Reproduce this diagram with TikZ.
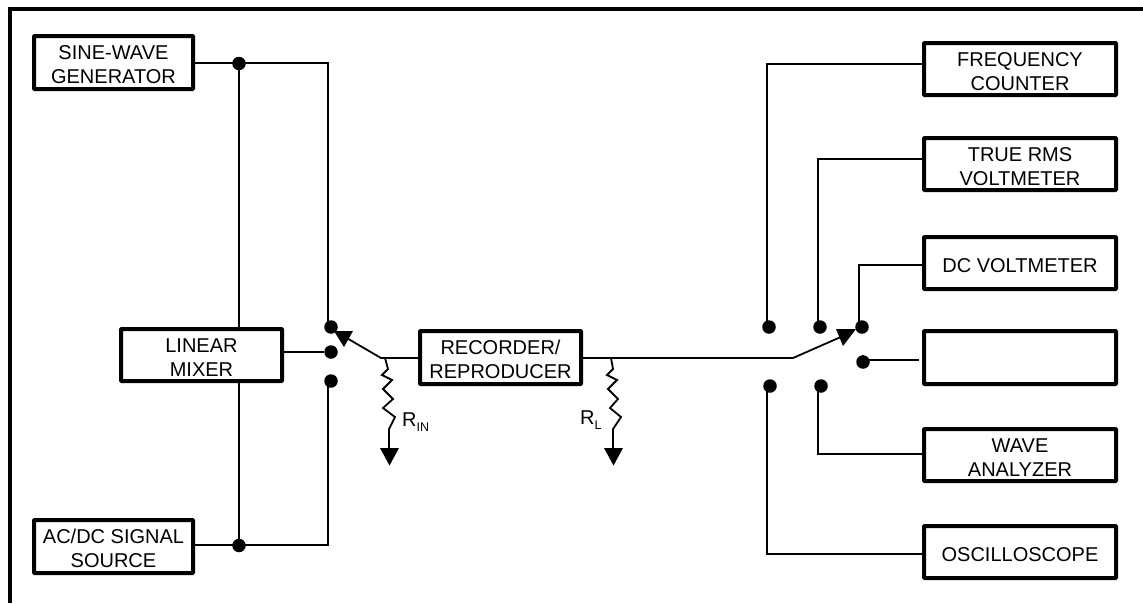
\documentclass[tikz,border=0pt]{standalone}
\usepackage{fontspec}
\setmainfont{Liberation Sans}
\tikzset{
 x=1pt,y=-1pt,
 box/.style={draw,line width=4pt,rounded corners=0.8pt,inner sep=0pt,align=center,font=\fontsize{20}{24}\selectfont,anchor=north west},
 wire/.style={line width=1.8pt},
 dot/.style={circle,fill=black,inner sep=0pt,minimum size=13.5pt},
 tip/.style={fill=black,draw=none},
 lab/.style={inner sep=0pt,font=\fontsize{20}{24}\selectfont}
}
\newcommand{\bx}[6]{\node[box,minimum width=#4 pt,minimum height=#5 pt] (#1) at (#2,#3) {\rule{0pt}{19pt}#6};}
\begin{document}
\begin{tikzpicture}
\useasboundingbox (0,0) rectangle (1143,603);
\coordinate (fa) at (10,603);
\coordinate (fb) at (10,9);
\coordinate (fc) at (1143,9);
\draw[line width=4.5pt] (fa) -- (fb) -- (fc);
\bx{sine}{32}{34}{159}{53}{SINE-WAVE\\GENERATOR}
\bx{src}{32}{518}{159}{53}{AC/DC SIGNAL\\SOURCE}
\bx{mix}{119}{327}{161}{52}{LINEAR\\MIXER}
\bx{rec}{418}{329}{161}{53}{RECORDER/\\REPRODUCER}
\bx{freq}{922}{41}{192}{52}{FREQUENCY\\COUNTER}
\bx{rms}{922}{136}{192}{52}{TRUE RMS\\VOLTMETER}
\bx{dcv}{922}{235}{192}{52}{DC VOLTMETER}
\bx{blank}{922}{329}{192}{53}{}
\bx{wave}{922}{427}{192}{52}{WAVE\\ANALYZER}
\bx{osc}{922}{524}{192}{52}{OSCILLOSCOPE}
% left switch
\node[dot] (d1) at (239,63.5) {};
\node[dot] (d2) at (239,545.5) {};
\node[dot] (t1) at (331,327) {};
\node[dot] (t2) at (331,352) {};
\node[dot] (t3) at (331,381) {};
\coordinate (c1) at (328,63);
\coordinate (c2) at (328,545);
\draw[wire] (sine.east|-c1) -- (c1) -- (c1|-t1);
\draw[wire] (src.east|-c2) -- (c2) -- (c2|-t3);
\draw[wire] (d1) -- (d1|-mix.north);
\draw[wire] (d2) -- (d2|-mix.south);
\draw[wire] (mix.east|-t2) -- (t2);
\coordinate (sw) at (381,358);
\draw[wire] (rec.west|-sw) -- (sw) -- (345,337);
\path[tip] (334,331) -- (353,331) -- (344,347) -- cycle;
% right switch
\coordinate (sw2) at (793,358);
\draw[wire] (rec.east|-sw2) -- (sw2) -- (843,336);
\node[dot] (u1) at (769,327) {};
\node[dot] (u2) at (820,327) {};
\node[dot] (u3) at (862,327) {};
\node[dot] (u4) at (863,362) {};
\node[dot] (v1) at (770,386) {};
\node[dot] (v2) at (821,386) {};
\path[tip] (856,329) -- (836,329) -- (843,346) -- cycle;
\coordinate (w1) at (767,64);
\coordinate (w2) at (818,159);
\coordinate (w3) at (859,265);
\coordinate (w5) at (818,454);
\coordinate (w6) at (767,554);
\draw[wire] (freq.west|-w1) -- (w1) -- (w1|-u1);
\draw[wire] (rms.west|-w2) -- (w2) -- (w2|-u2);
\draw[wire] (dcv.west|-w3) -- (w3) -- (w3|-u3);
\coordinate (w4) at (919,360);
\draw[wire] (u4) -- (u4|-w4) -- (w4);
\draw[wire] (wave.west|-w5) -- (w5) -- (w5|-v2);
\draw[wire] (osc.west|-w6) -- (w6) -- (w6|-v1);
% resistors
\coordinate (ra) at (385,358);
\coordinate (rc) at (389,448);
\draw[wire,line join=miter] (ra) -- (388,369) -- (382,375) -- (392,380) -- (383,389) -- (393,399) -- (383,408) -- (395,417) -- (389,429) -- (rc);
\path[tip] (380,448) -- (399,448) -- (389.5,465.5) -- cycle;
\coordinate (rd) at (611,358);
\coordinate (rf) at (613,448);
\draw[wire,line join=miter] (rd) -- (613,369) -- (607,375) -- (617,380) -- (608,389) -- (618,399) -- (610,408) -- (621,417) -- (613,429) -- (rf);
\path[tip] (604,448) -- (623,448) -- (613.5,465.5) -- cycle;
\node[lab,anchor=base west] (rin) at (402,426) {R\raisebox{-5pt}{\fontsize{12.5}{12.5}\selectfont IN}};
\node[lab,anchor=base west] (rl) at (580,424) {R\raisebox{-5pt}{\fontsize{12.5}{12.5}\selectfont L}};
\end{tikzpicture}
\end{document}
